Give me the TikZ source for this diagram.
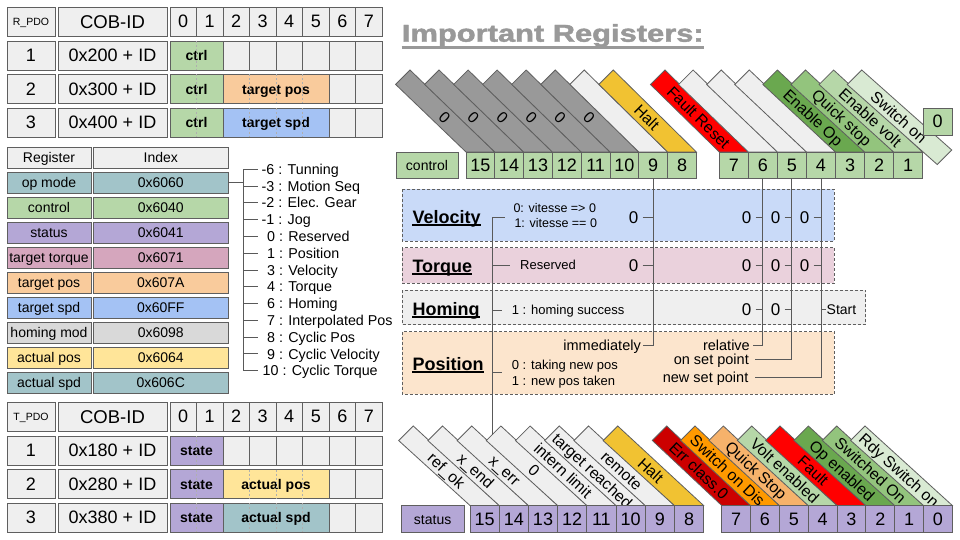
\documentclass[tikz,border=0pt]{standalone}
\usepackage{fontspec}
\setmainfont{Liberation Sans}
\newfontfamily\titlefont[FakeBold=1.6]{Liberation Sans Bold}
\usepackage{graphicx}
\usetikzlibrary{calc}
\definecolor{bord}{HTML}{5F5F5F}
\definecolor{lnk}{HTML}{595959}
\definecolor{cellgray}{HTML}{EFEFEF}
\definecolor{grn}{HTML}{B6D7A8}
\definecolor{org}{HTML}{F9CB9C}
\definecolor{blu}{HTML}{A4C2F4}
\definecolor{pur}{HTML}{B4A7D6}
\definecolor{yel}{HTML}{FFE599}
\definecolor{tealb}{HTML}{A2C4C9}
\definecolor{pinkb}{HTML}{D5A6BD}
\definecolor{lgray}{HTML}{D9D9D9}
\definecolor{bandgray}{HTML}{999999}
\definecolor{halt}{HTML}{F1C232}
\definecolor{fred}{HTML}{FF0000}
\definecolor{dred}{HTML}{CC0000}
\definecolor{orng}{HTML}{FF9900}
\definecolor{lorng}{HTML}{F6B26B}
\definecolor{ga}{HTML}{6AA84F}
\definecolor{gb}{HTML}{93C47D}
\definecolor{gc}{HTML}{B6D7A8}
\definecolor{gd}{HTML}{D9EAD3}
\definecolor{velbox}{HTML}{C9DAF8}
\definecolor{torbox}{HTML}{EAD1DC}
\definecolor{homebox}{HTML}{EFEFEF}
\definecolor{posbox}{HTML}{FCE5CD}
\definecolor{titlegray}{HTML}{999999}
\newcommand{\fsz}[1]{\fontsize{#1}{#1}\selectfont}
\newcommand{\cellat}[8]{%
  \node[cell,fill=#6,font=\fsz{#7},text height={0.716*#7},minimum width={(#4)-(#2)},minimum height={(#5)-(#3)}] (#1) at ({((#2)+(#4))/2},{((#3)+(#5))/2}) {#8};}
\newcommand{\mkband}[9]{%
  \pgfmathsetmacro{\bndA}{#2}\pgfmathsetmacro{\bndT}{#3}\pgfmathsetmacro{\bndL}{#4}%
  \pgfmathsetmacro{\bndW}{#5}\pgfmathsetmacro{\bndB}{#6}\pgfmathsetmacro{\bndC}{#9}%
  \pgfmathsetmacro{\bndxa}{\bndA-\bndW/4}\pgfmathsetmacro{\bndya}{\bndT+\bndW/4}%
  \pgfmathsetmacro{\bndxb}{\bndL+\bndW/2}%
  \pgfmathsetmacro{\bndt}{(\bndC-\bndya)/(\bndB-\bndya)}%
  \pgfmathsetmacro{\bndxc}{\bndxa+\bndt*(\bndxb-\bndxa)}%
  \pgfmathsetmacro{\bndang}{-atan((\bndB-\bndya)/(\bndxb-\bndxa))}%
  \pgfmathsetmacro{\bndlx}{\bndA-\bndW/2}\pgfmathsetmacro{\bndly}{\bndT+\bndW/2}%
  \pgfmathsetmacro{\bndrx}{\bndL+\bndW}%
  \draw[band,fill=#7] (\bndlx,\bndly) -- (\bndA,\bndT) -- (\bndrx,\bndB) -- (\bndL,\bndB) -- cycle;
  \node[tx=15.8,rotate=\bndang] (#1) at (\bndxc,\bndC) {#8};}
\begin{document}
\begin{tikzpicture}[x=1pt,y=-1pt,
  cell/.style={draw=bord,line width=0.8pt,fill=cellgray,inner sep=0pt,text depth=0pt},
  tx/.style={inner sep=0pt,font=\fsz{#1},text height={0.716*#1},text depth=0pt},
  conn/.style={draw=lnk,line width=0.9pt},
  modebox/.style={draw=bord,line width=0.8pt,dash pattern=on 3pt off 2pt},
  band/.style={draw=bord,line width=0.8pt},
  sep/.style={draw=bord!50,line width=0.7pt,dash pattern=on 2pt off 2pt}]
\useasboundingbox (0,0) rectangle (960,540);
\fill[white] (0,0) rectangle (960,540);
% title
\node[anchor=base west,inner sep=0pt,text=titlegray,font=\fsz{24.3}\titlefont] (title) at (401.7,41.7) {\scalebox{1.27}[1]{Important Registers:}};
\draw[titlegray,line width=2.2pt] ($(title.base west)+(0,5.8)$) -- ($(title.base east)+(0,5.8)$);
% R_PDO table
\cellat{rpa0}{7}{7}{55}{36}{cellgray}{10.5}{R\_PDO}
\cellat{rpb0}{58}{7}{167}{36}{cellgray}{18.5}{COB-ID}
\foreach \kk in {0,...,7}{\cellat{rpc\kk}{170+26.5*\kk}{7}{196.5+26.5*\kk}{36}{cellgray}{18}{\kk}}
\foreach \rw/\yy/\cid in {1/41/0x200 + ID,2/74.5/0x300 + ID,3/108/0x400 + ID}{
  \cellat{rpa\rw}{7}{\yy}{55}{\yy+29}{cellgray}{18}{\rw}
  \cellat{rpb\rw}{58}{\yy}{167}{\yy+29}{cellgray}{18}{\cid}
  \cellat{rpctrl\rw}{170}{\yy}{223}{\yy+29}{grn}{14}{\bfseries ctrl}
  \draw[sep] (196.5,\yy) -- (196.5,{\yy+29});
}
\foreach \kk in {2,...,7}{\cellat{rpd\kk}{170+26.5*\kk}{41}{196.5+26.5*\kk}{70}{cellgray}{18}{}}
\cellat{rptp}{223}{74.5}{329}{103.5}{org}{14}{\bfseries target pos}
\cellat{rpe6}{329}{74.5}{355.5}{103.5}{cellgray}{18}{}
\cellat{rpe7}{355.5}{74.5}{382}{103.5}{cellgray}{18}{}
\cellat{rpts}{223}{108}{329}{137}{blu}{14}{\bfseries target spd}
\cellat{rpf6}{329}{108}{355.5}{137}{cellgray}{18}{}
\cellat{rpf7}{355.5}{108}{382}{137}{cellgray}{18}{}
\foreach \xx in {249.5,276,302.5}{
  \draw[sep] (\xx,74.5) -- (\xx,103.5);
  \draw[sep] (\xx,108) -- (\xx,137);}
% register table
\foreach \kk/\bc/\rg/\ix in {0/cellgray/Register/Index,1/tealb/op mode/0x6060,2/grn/control/0x6040,3/pur/status/0x6041,4/pinkb/target torque/0x6071,5/org/target pos/0x607A,6/blu/target spd/0x60FF,7/lgray/homing mod/0x6098,8/yel/actual pos/0x6064,9/tealb/actual spd/0x606C}{
  \cellat{rr\kk}{7}{147+25*\kk}{91}{168+25*\kk}{\bc}{14}{\rg}
  \cellat{ri\kk}{93.5}{147+25*\kk}{228}{168+25*\kk}{\bc}{14}{\ix}
}
% op mode list
\coordinate (omtop) at (243,169.3);
\coordinate (ombot) at (243,370.7);
\draw[conn] (ri1.east) -- (ri1.east -| omtop);
\draw[conn] (omtop) -- (ombot);
\foreach \kk/\xx/\ot in {0/261.5/-6 : Tunning,1/261.5/-3 : Motion Seq,2/261.5/-2 : Elec. Gear,3/261.5/-1 : Jog,4/267/0 : Reserved,5/267/1 : Position,6/267/3 : Velocity,7/267/4 : Torque,8/267/6 : Homing,9/267/7 : Interpolated Pos,10/267/8 : Cyclic Pos,11/267/9 : Cyclic Velocity,12/262.5/10 : Cyclic Torque}{
  \node[tx=14.3,anchor=west] (om\kk) at (\xx,{169.3+16.78*\kk}) {\ot};
  \draw[conn] (omtop |- om\kk.west) -- ++(15,0);
}
% T_PDO table
\cellat{tpa0}{7}{402}{55}{431}{cellgray}{10.5}{T\_PDO}
\cellat{tpb0}{58}{402}{167}{431}{cellgray}{18.5}{COB-ID}
\foreach \kk in {0,...,7}{\cellat{tpc\kk}{170+26.5*\kk}{402}{196.5+26.5*\kk}{431}{cellgray}{18}{\kk}}
\foreach \rw/\yy/\cid in {1/436/0x180 + ID,2/469.5/0x280 + ID,3/503/0x380 + ID}{
  \cellat{tpa\rw}{7}{\yy}{55}{\yy+29}{cellgray}{18}{\rw}
  \cellat{tpb\rw}{58}{\yy}{167}{\yy+29}{cellgray}{18}{\cid}
  \cellat{tpst\rw}{170}{\yy}{223}{\yy+29}{pur}{14}{\bfseries state}
  \draw[sep] (196.5,\yy) -- (196.5,{\yy+29});
}
\foreach \kk in {2,...,7}{\cellat{tpd\kk}{170+26.5*\kk}{436}{196.5+26.5*\kk}{465}{cellgray}{18}{}}
\cellat{tpap}{223}{469.5}{329}{498.5}{yel}{14}{\bfseries actual pos}
\cellat{tpe6}{329}{469.5}{355.5}{498.5}{cellgray}{18}{}
\cellat{tpe7}{355.5}{469.5}{382}{498.5}{cellgray}{18}{}
\cellat{tpas}{223}{503}{329}{532}{tealb}{14}{\bfseries actual spd}
\cellat{tpf6}{329}{503}{355.5}{532}{cellgray}{18}{}
\cellat{tpf7}{355.5}{503}{382}{532}{cellgray}{18}{}
\foreach \xx in {249.5,276,302.5}{
  \draw[sep] (\xx,469.5) -- (\xx,498.5);
  \draw[sep] (\xx,503) -- (\xx,532);}
% control register bands
\foreach \ii/\bc/\bx in {15/bandgray/0,14/bandgray/0,13/bandgray/0,12/bandgray/0,11/bandgray/0,10/bandgray/0,9/cellgray/{},8/halt/Halt}{
  \mkband{cbd\ii}{410+(15-\ii)*29.04}{70}{466+(15-\ii)*28.8}{28.8}{152}{\bc}{\bx}{117.5}}
\foreach \ii/\bc/\bx in {7/fred/Fault Reset,6/cellgray/{},5/cellgray/{},4/cellgray/{},3/ga/Enable Op,2/gb/Quick stop,1/gc/Enable volt}{
  \mkband{cbd\ii}{665+(7-\ii)*28.1}{70}{719.3+(7-\ii)*29.05}{29.05}{152}{\bc}{\bx}{117.5}}
\draw[band,fill=gd] (847.2,84.5) -- (861.7,70) -- (951.7,150) -- (937.2,164.5) -- cycle;
\node[tx=15.8,rotate=-41.6] (cbd0) at (898.8,117) {Switch on};
% control register cells
\cellat{ctl}{396}{152}{458}{178}{grn}{14}{control}
\foreach \ii in {15,14,13,12,11,10,9,8}{\cellat{cb\ii}{466+(15-\ii)*28.8}{152}{494.8+(15-\ii)*28.8}{178}{grn}{18}{\ii}}
\foreach \ii in {7,6,5,4,3,2,1}{\cellat{cb\ii}{719.3+(7-\ii)*29.05}{152}{748.35+(7-\ii)*29.05}{178}{grn}{18}{\ii}}
\cellat{cb0}{923}{108}{952}{135}{grn}{18}{0}
% mode boxes
\draw[modebox,fill=velbox] (402.3,189) rectangle (834.3,241);
\draw[modebox,fill=torbox] (402.3,247.7) rectangle (834.3,283.3);
\draw[modebox,fill=homebox] (402.3,290) rectangle (865.7,324.5);
\draw[modebox,fill=posbox] (402.3,331.7) rectangle (834.3,394.3);
\foreach \nm/\lb/\by in {lvel/Velocity/223.1,ltor/Torque/272.4,lhom/Homing/315.4,lpos/Position/370.4}{
  \node[tx=18,font=\fsz{18}\bfseries,anchor=base west] (\nm) at (412.3,\by) {\lb};
  \draw[line width=1.5pt] ($(\nm.base west)+(0,1.8)$) -- ($(\nm.base east)+(0,1.8)$);
}
% control bit connectors
\node[tx=14.5,anchor=east] (imm) at (641,345.8) {immediately};
\node[tx=14.5,anchor=east] (rel) at (750,345.8) {relative};
\node[tx=14.5,anchor=east] (osp) at (749,359.6) {on set point};
\node[tx=14.5,anchor=east] (nsp) at (748.5,377.4) {new set point};
\draw[conn] (cb9.south) |- ([xshift=2.3pt]imm.east);
\draw[conn] (cb6.south) |- ([xshift=2.5pt]rel.east);
\draw[conn] (cb5.south) |- ([xshift=6pt]osp.east);
\draw[conn] (cb4.south) |- ([xshift=6.5pt]nsp.east);
\foreach \yy/\rn in {217.8/v,265.8/t}{
  \foreach \ii/\xo in {9/638.5,6/751.5,5/780.5,4/809.5}{
    \node[tx=17,anchor=east] (z\ii\rn) at (\xo,\yy) {0};
    \draw[conn] ([xshift=4pt]z\ii\rn.east) -- (z\ii\rn.east -| cb\ii.south);
  }
}
\foreach \ii/\xo in {6/751.5,5/780.5}{
  \node[tx=17,anchor=east] (z\ii h) at (\xo,309.8) {0};
  \draw[conn] ([xshift=4pt]z\ii h.east) -- (z\ii h.east -| cb\ii.south);
}
\node[tx=14,anchor=west] (hstart) at (826.5,309.8) {Start};
\draw[conn] (hstart.west -| cb4.south) -- ([xshift=-1pt]hstart.west);
% mode-specific status texts
\node[tx=12.5,anchor=west] (vt1) at (513.3,207.7) {0: vitesse => 0};
\node[tx=12.5,anchor=west] (vt2) at (514.3,223.3) {1: vitesse == 0};
\node[tx=13,anchor=west] (tres) at (520,265.3) {Reserved};
\node[tx=13,anchor=west] (hsuc) at (511.7,310) {1 : homing success};
\node[tx=13,anchor=west] (pp1) at (511.7,365) {0 : taking new pos};
\node[tx=13,anchor=west] (pp2) at (511.7,380.7) {1 : new pos taken};
% status register bands
\foreach \ii/\bc/\bx in {15/cellgray/ref\_ok,14/cellgray/x\_end,13/cellgray/x\_err,12/cellgray/0,11/cellgray/intern limit,10/cellgray/target reached,9/cellgray/remote,8/halt/Halt}{
  \mkband{sbd\ii}{413.3+(15-\ii)*29.2}{426}{470+(15-\ii)*29.2}{29.2}{505.5}{\bc}{\bx}{470.5}}
\foreach \ii/\bc/\bx in {7/dred/Err class.0,6/orng/Switch on Dis,5/lorng/Quick Stop,4/gc/Volt enabled,3/fred/Fault,2/ga/Op enabled,1/gb/Switched On,0/gd/Rdy Switch on}{
  \mkband{sbd\ii}{666.7+(7-\ii)*28.33}{426}{721.7+(7-\ii)*28.83}{28.83}{505.5}{\bc}{\bx}{470.5}}
% status register cells
\cellat{stat}{401}{505.5}{464.3}{532.5}{pur}{14}{status}
\foreach \ii in {15,14,13,12,11,10,9,8}{\cellat{sb\ii}{470+(15-\ii)*29.2}{505.5}{499.2+(15-\ii)*29.2}{532.5}{pur}{18}{\ii}}
\foreach \ii in {7,6,5,4,3,2,1,0}{\cellat{sb\ii}{721.7+(7-\ii)*28.83}{505.5}{750.53+(7-\ii)*28.83}{532.5}{pur}{18}{\ii}}
% status bit 12 connector
\coordinate (s12top) at (492.3,434.6);
\coordinate (vtick) at (505,217.3);
\coordinate (ptick) at (501.7,372.7);
\draw[conn] (s12top) |- (vtick);
\draw[conn] (s12top |- tres.west) -- ([xshift=-10pt]tres.west);
\draw[conn] (s12top |- hsuc.west) -- ([xshift=-10pt]hsuc.west);
\draw[conn] (s12top |- ptick) -- (ptick);
\end{tikzpicture}
\end{document}
